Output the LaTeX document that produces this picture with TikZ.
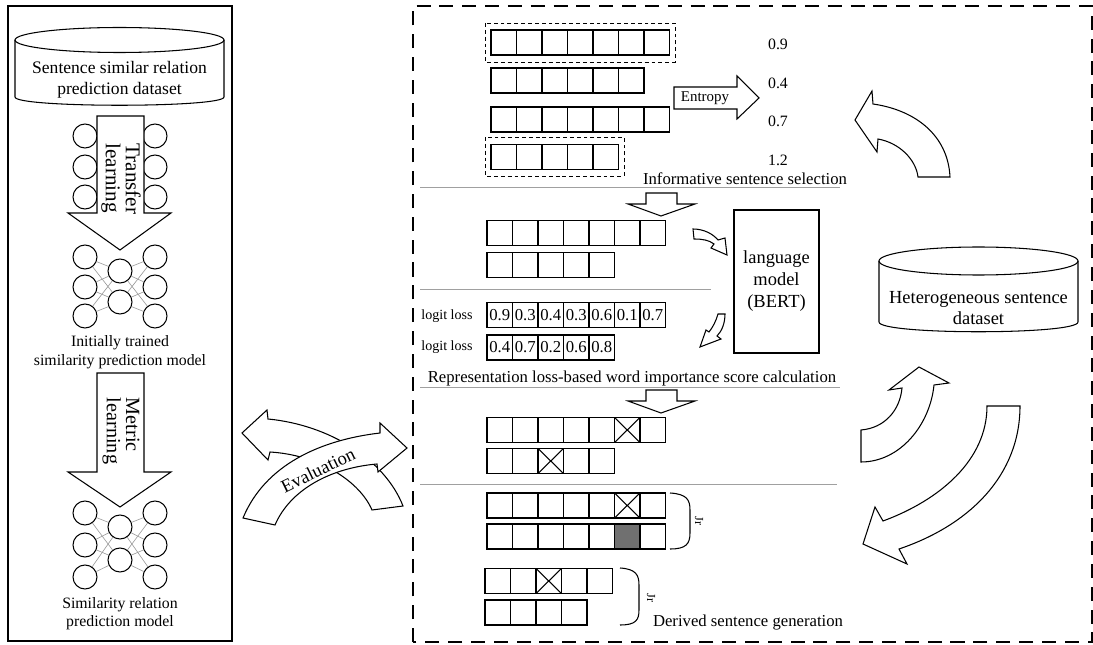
\documentclass[tikz,border=0pt]{standalone}
\usepackage{fontspec}
\setmainfont{Liberation Serif}
\definecolor{maskgray}{RGB}{112,112,112}
\definecolor{rulegray}{RGB}{160,160,160}
\begin{document}
\begin{tikzpicture}[x=0.02cm, y=-0.02cm, line width=0.6pt,
  every node/.style={inner sep=0pt, font=\fontsize{9.5}{11}\selectfont},
  cell/.style={draw, minimum width=0.51cm, minimum height=0.5cm},
  xcell/.style={cell, path picture={\draw (path picture bounding box.north west) -- (path picture bounding box.south east)
      (path picture bounding box.south west) -- (path picture bounding box.north east);}},
  gcell/.style={cell, fill=maskgray},
  neuron/.style={circle, draw, fill=white, minimum size=0.48cm},
  link/.style={draw=gray!80, line width=0.35pt},
  blockarrow/.style={draw, fill=white, line join=miter},
  sep/.style={draw=rulegray, line width=0.5pt},
  pick/.style={draw, line width=0.5pt, dash pattern=on 2.2pt off 1.7pt}]
\useasboundingbox (0,0) rectangle (1093,645);

% left panel
\draw[line width=1.6pt] (8,6) rectangle (232,641);
\draw[fill=white] (15,40) -- (15,97) .. controls (15,108) and (224,108) .. (224,97) -- (224,40);
\draw (119.5,40) ellipse [x radius=104.5, y radius=12.5];
\node[align=center, font=\fontsize{10}{12}\selectfont] (srcdata) at (119.5,80) {Sentence similar relation\\prediction dataset};

\foreach \y [count=\i] in {136,167,197} {
  \node[neuron] (p\i) at (85,\y) {};
  \node[neuron] (q\i) at (155,\y) {};
}
\draw[blockarrow] (97,116) -- (144,116) -- (144,213) -- (171,213) -- (120,250) -- (68,213) -- (97,213) -- cycle;
\node[rotate=-90, align=left, font=\fontsize{12}{11.5}\selectfont] (transfer) at (121,179) {Transfer\\learning};

% initially trained model
\foreach \y [count=\i] in {257,287,316} {
  \node[neuron] (a\i) at (85,\y) {};
  \node[neuron] (c\i) at (155,\y) {};
}
\foreach \y [count=\i] in {271,302} \node[neuron] (b\i) at (120,\y) {};
\foreach \i in {1,2,3} \foreach \j in {1,2} {
  \draw[link] (a\i) -- (b\j);
  \draw[link] (b\j) -- (c\i);
}
\node[align=center, font=\fontsize{9}{10.8}\selectfont] (initmodel) at (120,352) {Initially trained\\similarity prediction model};

\draw[blockarrow] (97,373) -- (144,373) -- (144,472) -- (171,472) -- (120,507) -- (68,472) -- (97,472) -- cycle;
\node[rotate=-90, align=left, font=\fontsize{11.5}{11}\selectfont] (metric) at (121,431) {Metric\\learning};

% final model
\foreach \y [count=\i] in {513,545,577} {
  \node[neuron] (d\i) at (85,\y) {};
  \node[neuron] (f\i) at (155,\y) {};
}
\foreach \y [count=\i] in {527,560} \node[neuron] (e\i) at (120,\y) {};
\foreach \i in {1,2,3} \foreach \j in {1,2} {
  \draw[link] (d\i) -- (e\j);
  \draw[link] (e\j) -- (f\i);
}
\node[align=center, font=\fontsize{9}{10.4}\selectfont] (finalmodel) at (120,614) {Similarity relation\\prediction model};

% evaluation
\draw[blockarrow] (242,433) -- (267,410) -- (268,419) .. controls (330,425) and (385,460) .. (403,506)
  -- (372,510) .. controls (360,482) and (320,455) .. (270,452) -- (268,460) -- cycle;
\draw[blockarrow] (243,518) .. controls (265,465) and (320,440) .. (380,433) -- (380,423) -- (407,448)
  -- (378,472) -- (377,464) .. controls (330,468) and (290,490) .. (275,525) -- cycle;
\node[rotate=26, font=\fontsize{10.5}{12}\selectfont] (eval) at (318,470) {Evaluation};

% right panel
\draw[line width=1.7pt, dash pattern=on 8pt off 5pt] (413,642) -- (413,6) -- (1092,6) -- (1092,642) -- cycle;

% informative sentence selection
\foreach \n/\y [count=\r] in {7/42.5, 6/80.5, 7/119.5, 5/157}
  \foreach \i in {1,...,\n}
    \node[cell] (s\r-\i) at (478.25+25.5*\i,\y) {};
\draw[pick] (485,23) rectangle (675,62);
\draw[pick] (485,137) rectangle (624,176);
\draw[blockarrow] (674,87) -- (737,87) -- (737,76) -- (759,98) -- (737,119) -- (737,109) -- (674,109) -- cycle;
\node[font=\fontsize{8.5}{10}\selectfont] (entropy) at (705,98) {Entropy};
\foreach \v/\y [count=\i] in {0.9/44, 0.4/83, 0.7/121, 1.2/160}
  \node[font=\fontsize{9}{10}\selectfont] (h\i) at (778,\y) {\v};
\node (sel) at (745,179) {Informative sentence selection};
\draw[sep] (420,187) -- (840,187);

% word importance
\draw[blockarrow] (646,193) -- (677,193) -- (677,204) -- (695,204) -- (661,216) -- (628,204) -- (646,204) -- cycle;
\foreach \i in {1,...,7} \node[cell] (w1-\i) at (474.25+25.5*\i,233) {};
\foreach \i in {1,...,5} \node[cell] (w2-\i) at (474.25+25.5*\i,265) {};
\draw[sep] (420,289) -- (711,289);
\node[draw, minimum width=1.7cm, minimum height=2.86cm, align=center, font=\fontsize{10.5}{12.5}\selectfont] (bert) at (776.5,281.5) {language\\model\\(BERT)};
\draw[blockarrow] (693,229) .. controls (704,229) and (713,234) .. (718,240) -- (725,238) -- (727,255)
  -- (711,248) -- (714,244) .. controls (709,240) and (702,239) .. (694,239) -- cycle;
\draw[blockarrow] (725,314) .. controls (725,323) and (722,331) .. (717,336) -- (721,339) -- (700,347)
  -- (706,330) -- (709,332) .. controls (713,327) and (716,321) .. (718,314) -- cycle;
\foreach \v [count=\i] in {0.9,0.3,0.4,0.3,0.6,0.1,0.7}
  \node[cell] (l1-\i) at (474.25+25.5*\i,315) {\v};
\foreach \v [count=\i] in {0.4,0.7,0.2,0.6,0.8}
  \node[cell] (l2-\i) at (474.25+25.5*\i,347.5) {\v};
\node[font=\fontsize{8}{9}\selectfont] (ll1) at (447,316) {logit loss};
\node[font=\fontsize{8}{9}\selectfont] (ll2) at (447,347) {logit loss};
\node (score) at (632,378) {Representation loss-based word importance score calculation};
\draw[sep] (420,387) -- (840,387);

% masking
\draw[blockarrow] (646,390) -- (677,390) -- (677,401) -- (695,401) -- (661,413) -- (628,401) -- (646,401) -- cycle;
\foreach \s [count=\i] in {cell,cell,cell,cell,cell,xcell,cell}
  \node[\s] (m1-\i) at (474.25+25.5*\i,430) {};
\foreach \s [count=\i] in {cell,cell,xcell,cell,cell}
  \node[\s] (m2-\i) at (474.25+25.5*\i,461) {};
\draw[sep] (420,484) -- (837,484);

% derived sentence generation
\foreach \s [count=\i] in {cell,cell,cell,cell,cell,xcell,cell}
  \node[\s] (g1-\i) at (474.25+25.5*\i,505.5) {};
\foreach \s [count=\i] in {cell,cell,cell,cell,cell,gcell,cell}
  \node[\s] (g2-\i) at (474.25+25.5*\i,536.5) {};
\draw (670,493) .. controls (687,494) and (690,500) .. (690,510) -- (690,533) .. controls (690,544) and (686,549) .. (670,549);
\node[rotate=-90, font=\fontsize{7}{8}\selectfont] (j1) at (699,521) {Jr};
\foreach \s [count=\i] in {cell,cell,xcell,cell,cell}
  \node[\s] (g3-\i) at (472.25+25.5*\i,581) {};
\foreach \i in {1,...,4} \node[cell] (g4-\i) at (472.25+25.5*\i,612.5) {};
\draw (620,568) .. controls (636,569) and (639,575) .. (639,585) -- (639,610) .. controls (639,620) and (636,625) .. (620,625);
\node[rotate=-90, font=\fontsize{7}{8}\selectfont] (j2) at (651,598) {Jr};
\node (derived) at (748,623) {Derived sentence generation};

% heterogeneous dataset and cycle
\draw[blockarrow] (855,120) -- (872,91) -- (873,104) .. controls (915,110) and (948,135) .. (950,177)
  -- (918,177) .. controls (916,160) and (900,143) .. (878,139) -- (877,152) -- cycle;
\draw[fill=white] (879,261) -- (879,322) .. controls (879,335) and (1078,335) .. (1078,322) -- (1078,261);
\draw (978.5,261) ellipse [x radius=99.5, y radius=14];
\node[align=center, font=\fontsize{10.5}{11.5}\selectfont] (hetdata) at (978.5,308) {Heterogeneous sentence\\dataset};
\draw[blockarrow] (861,430) .. controls (885,428) and (900,410) .. (902,388) -- (889,390) -- (919,367)
  -- (949,383) -- (934,385) .. controls (930,425) and (900,462) .. (861,462) -- cycle;
\draw[blockarrow] (987,406) .. controls (987,460) and (940,500) .. (883,521) -- (875,507) -- (863,544)
  -- (907,564) -- (899,549) .. controls (970,525) and (1020,475) .. (1020,406) -- cycle;
\end{tikzpicture}
\end{document}
